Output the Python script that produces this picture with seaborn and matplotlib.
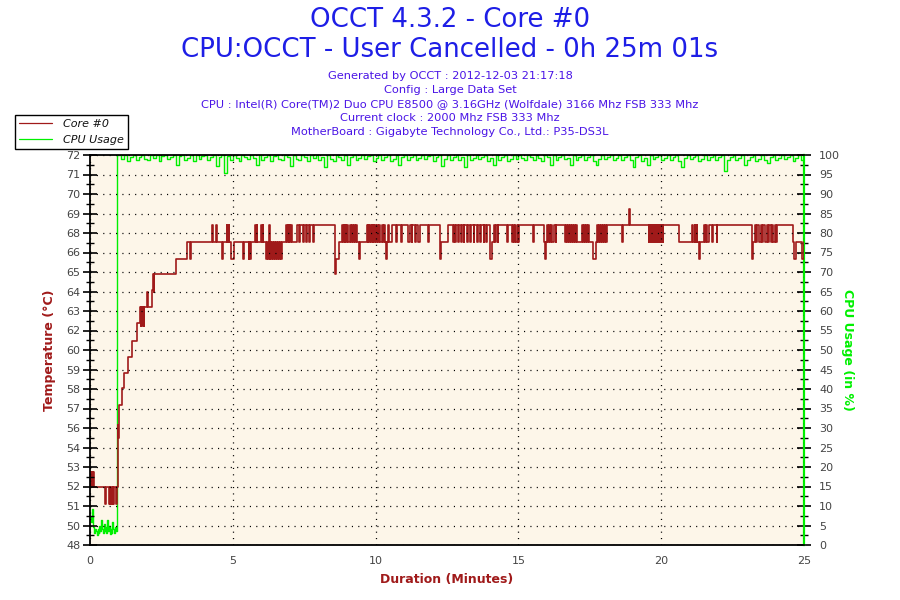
import matplotlib
matplotlib.use("Agg")
import matplotlib.pyplot as plt
from matplotlib.ticker import MultipleLocator, FixedLocator, FixedFormatter
import numpy as np
import pandas as pd
import seaborn as sns

sns.set_style("white")
plt.rcParams['font.family'] = ['DejaVu Sans']

# ---------------- data ----------------
title_lines = ["OCCT 4.3.2 - Core #0", "CPU:OCCT - User Cancelled - 0h 25m 01s"]
info_lines = [
    "Generated by OCCT : 2012-12-03 21:17:18",
    "Config : Large Data Set",
    "CPU : Intel(R) Core(TM)2 Duo CPU E8500 @ 3.16GHz (Wolfdale) 3166 Mhz FSB 333 Mhz",
    "Current clock : 2000 Mhz FSB 333 Mhz",
    "MotherBoard : Gigabyte Technology Co., Ltd.: P35-DS3L",
]
series_names = ["Core #0", "CPU Usage"]

temp_axis_min, temp_axis_max = 48, 72
temp_tick_labels = ["48", "50", "51", "52", "53", "54", "56", "57", "58", "59", "60",
                    "62", "63", "64", "65", "66", "68", "69", "70", "71", "72"]
cpu_tick_labels = [str(v) for v in range(0, 101, 5)]
x_tick_labels = ["0", "5", "10", "15", "20", "25"]

# temperature levels seen on the plateau
B, H, L, LL, TOP = 66.65, 67.7, 65.6, 64.7, 68.7

temp_rise_times = [0.00, 0.02, 0.04, 0.06, 0.08, 0.10, 0.12, 0.14, 0.52, 0.56, 0.66, 0.69,
                   0.71, 0.74, 0.76, 0.79, 0.81, 0.84, 0.90, 0.93, 0.97, 0.98, 0.99, 1.00,
                   1.03, 1.11, 1.19, 1.34, 1.48, 1.66, 1.75, 1.78, 1.80, 1.83, 1.85, 1.88,
                   1.90, 2.01, 2.03, 2.16, 2.22, 2.24, 2.25, 2.27, 3.01, 3.38, 3.39]
temp_rise_values = [52.5, 51.55, 52.5, 51.55, 52.5, 51.55, 52.5, 51.55, 50.5, 51.55, 50.5, 51.55,
                    50.5, 51.55, 50.5, 51.55, 50.5, 51.55, 50.5, 51.55, 54.6, 55.4, 54.6, 55.4,
                    56.6, 57.66, 58.6, 59.6, 60.57, 61.64, 62.63, 61.5, 62.63, 61.5, 62.63, 61.5,
                    62.63, 63.6, 62.63, 63.7, 64.66, 63.6, 64.66, 64.66, 65.6, 66.65, 65.6]

temp_plateau_times = [
    3.41, 3.51, 3.53, 4.26, 4.30, 4.40, 4.44, 4.635, 4.67, 4.79, 4.81, 4.86, 4.88, 4.94, 5.03,
    5.37, 5.39, 5.55, 5.57, 5.60, 5.64, 5.78, 5.80, 5.84, 5.86, 5.99, 6.01, 6.04, 6.06,
    6.15, 6.19, 6.22, 6.26, 6.28, 6.30, 6.32, 6.34, 6.38, 6.40, 6.43, 6.48, 6.52, 6.56, 6.60,
    6.63, 6.67, 6.70, 6.74,
    6.865, 6.90, 6.92, 6.96, 6.98, 7.02, 7.04, 7.08,
    7.26, 7.32, 7.36, 7.47, 7.51, 7.57, 7.59, 7.68, 7.71, 7.82, 7.85,
    8.58, 8.63, 8.73,
    8.815, 8.85, 8.885, 8.92, 8.94, 8.98, 9.01, 9.04, 9.095, 9.13, 9.17, 9.20, 9.25, 9.28, 9.32, 9.34,
    9.43, 9.46,
    9.69, 9.73, 9.75, 9.785, 9.81, 9.84, 9.87, 9.90, 9.925, 9.96, 9.98, 10.02, 10.04, 10.08, 10.11, 10.16,
    10.22, 10.25, 10.31, 10.345, 10.37, 10.415, 10.45, 10.485,
    10.57, 10.72, 10.74, 10.905, 10.93, 11.15, 11.19, 11.27, 11.29, 11.38, 11.42, 11.50, 11.54, 11.83, 11.86,
    12.24, 12.26, 12.28,
    12.55, 12.70, 12.73, 12.785, 12.81, 12.90, 12.925, 12.995, 13.02, 13.08, 13.10, 13.19, 13.23, 13.31,
    13.33, 13.43, 13.45, 13.54, 13.58, 13.66, 13.68, 13.78, 13.80, 13.87, 13.89,
    13.99, 14.01, 14.09, 14.15, 14.19, 14.22, 14.27, 14.30,
    14.59, 14.62, 14.77, 14.80, 14.85, 14.885, 14.92, 14.97, 15.00, 15.03,
    15.50, 15.53,
    15.90, 15.925, 15.96, 16.00, 16.03, 16.08, 16.11, 16.15, 16.18, 16.23, 16.30, 16.32,
    16.64, 16.66, 16.695, 16.73, 16.765, 16.79, 16.835, 16.87, 16.905, 16.95, 16.99, 17.02, 17.06,
    17.22, 17.26, 17.30, 17.34, 17.37, 17.41, 17.44, 17.48,
    17.62, 17.71,
    17.75, 17.78, 17.82, 17.85, 17.89, 17.92, 17.96, 17.99, 18.03, 18.06, 18.10,
    18.62, 18.66, 18.89, 18.925,
    19.56, 19.59, 19.63, 19.66, 19.70, 19.73, 19.77, 19.80, 19.84, 19.87, 19.91, 19.94, 19.98, 20.01,
    20.05, 20.08,
    20.64, 21.07, 21.10, 21.17, 21.19, 21.24, 21.26, 21.31, 21.37,
    21.51, 21.53, 21.58, 21.60, 21.66, 21.77, 21.80, 21.95, 21.97,
    23.175, 23.23, 23.29, 23.33, 23.37, 23.44, 23.49, 23.54, 23.58, 23.64, 23.70, 23.74, 23.79, 23.84,
    23.89, 23.93, 23.99, 24.03, 24.07,
    24.61, 24.66, 24.72, 24.93, 24.99, 25.00]
temp_plateau_values = [
    B, L, B, H, B, H, B, L, B, H, B, H, B, L, B,
    L, B, L, B, L, B, H, B, H, B, H, B, H, B,
    L, B, L, B, H, L, B, L, B, L, B, L, B, L, B,
    L, B, L, B,
    H, B, H, B, H, B, H, B,
    H, B, H, B, H, B, H, B, H, B, H,
    LL, L, B,
    H, B, H, B, H, B, H, B, H, B, H, B, H, B, H, B,
    L, B,
    H, B, H, B, H, B, H, B, H, B, H, B, H, B, H, B,
    H, B, H, B, L, B, H, B,
    H, B, H, B, H, B, H, B, H, B, H, B, H, B, H,
    B, L, B,
    H, B, H, B, H, B, H, B, H, B, H, B, H, B,
    H, B, H, B, H, B, H, B, H, B, H,
    B, L, B, H, B, H, B, H,
    B, H, B, H, B, H, B, H, B, H,
    B, H,
    B, L, B, H, B, H, B, H, B, H, B, H,
    B, H, B, H, B, H, B, H, B, H, B, H, B,
    H, B, H, B, H, B, H, B,
    L, B,
    H, B, H, B, H, B, H, B, H, B, H,
    B, H, TOP, H,
    B, H, B, H, B, H, B, H, B, H, B, H, B, H,
    B, H,
    B, H, B, H, B, H, B, L, B,
    H, B, H, B, H, B, H, B, H,
    L, B, H, B, H, B, H, B, H, B, H, B, H, B,
    H, B, H, B, H,
    B, L, B, L, B, B]

cpu_start_times = [0.00, 0.03, 0.06, 0.09, 0.12, 0.15, 0.18, 0.21, 0.24, 0.27, 0.30, 0.33,
                   0.36, 0.39, 0.42, 0.45, 0.48, 0.51, 0.54, 0.57, 0.60, 0.63, 0.66, 0.69,
                   0.72, 0.75, 0.78, 0.81, 0.84, 0.87, 0.90, 0.93, 0.955, 0.958]
cpu_start_values = [7.3, 6.0, 9.2, 5.0, 4.5, 3.0, 4.0, 3.5, 2.5, 4.0, 3.0, 5.0,
                    3.5, 6.5, 4.0, 3.0, 5.5, 3.5, 4.5, 3.0, 6.5, 3.5, 5.0, 2.8,
                    4.0, 3.2, 6.0, 4.0, 3.0, 4.5, 3.5, 3.5, 7.0, 100.0]
cpu_load_first_minute = 1.0
cpu_load_sample_step = 0.1
cpu_load_values = [
    100, 99, 100, 98.5, 99.5, 100, 98.8, 99.6, 100, 99,
    98.6, 100, 99.2, 100, 98.4, 99.7, 100, 98.9, 99.5, 100,
    97.5, 99.8, 100, 98.7, 99.3, 100, 98.5, 100, 99.1, 99.8,
    100, 98.6, 99.4, 100, 97.2, 99.5, 100, 95.4, 99.7, 98.8,
    100, 99.3, 98.5, 100, 99.6, 98.9, 100, 99.2, 97.5, 100,
    98.7, 99.5, 100, 98.4, 99.8, 100, 99, 98.6, 100, 99.4,
    97.2, 100, 99.1, 98.7, 100, 99.5, 98.4, 100, 99.2, 100,
    98.8, 99.6, 96.9, 100, 99, 98.5, 100, 99.4, 98.7, 100,
    97.5, 99.5, 100, 98.6, 99.2, 100, 98.9, 99.7, 100, 98.5,
    99.3, 100, 98.7, 99.6, 100, 98.4, 99.1, 100, 97.5, 99.4,
    100, 98.8, 99.5, 100, 98.6, 99.2, 100, 98.9, 99.7, 100,
    98.5, 99.4, 100, 97.2, 99, 100, 98.7, 99.6, 100, 98.8,
    99.5, 96.9, 100, 98.6, 99.3, 100, 98.9, 99.6, 100, 98.5,
    99.2, 97.5, 100, 98.8, 99.6, 100, 98.4, 99.1, 100, 98.9,
    100, 99.3, 98.6, 100, 99.5, 98.8, 100, 99.2, 98.5, 100,
    99.4, 97.4, 100, 98.7, 99.5, 100, 98.9, 99.2, 97.5, 100,
    98.6, 99.4, 100, 98.8, 99.6, 100, 98.5, 97.4, 99.1, 100,
    98.9, 99.5, 100, 98.6, 99.3, 100, 98.8, 99.6, 100, 98.7,
    96.9, 99.4, 100, 98.5, 99.2, 97.5, 100, 98.9, 99.6, 100,
    98.6, 99.3, 100, 98.8, 99.5, 100, 98.4, 96.9, 99.2, 100,
    98.9, 99.6, 100, 98.5, 99.1, 100, 98.7, 99.4, 100, 98.6,
    99.5, 100, 96.0, 98.8, 99.4, 100, 98.6, 99.2, 100, 97.5,
    98.7, 99.5, 100, 98.4, 99.1, 100, 98.8, 97.9, 99.6, 100,
    98.6, 99.3, 100, 98.9, 99.5, 100, 98.5, 99.2, 100, 98.7,
    96.0]

# ---------------- build tables ----------------
temp_df = pd.DataFrame({"minutes": temp_rise_times + temp_plateau_times,
                        "temp": temp_rise_values + temp_plateau_values})
cpu_load_times = list(np.round(cpu_load_first_minute
                               + cpu_load_sample_step * np.arange(len(cpu_load_values)), 3))
cpu_df = pd.DataFrame({"minutes": cpu_start_times + cpu_load_times,
                       "cpu": cpu_start_values + cpu_load_values})

# ---------------- styling ----------------
RED = "#A01A1A"
GREEN = "#00F000"
BLUE = "#1E1EE6"
SUB = "#4A14E6"
CREAM = "#FDF6E9"
TICKC = "#444444"

fig = plt.figure(figsize=(9, 6), dpi=100)
fig.patch.set_facecolor("white")
ax = fig.add_axes([90 / 900, 55 / 600, 714 / 900, 390 / 600])
ax2 = ax.twinx()

ax2.patch.set_visible(True)
ax2.patch.set_facecolor(CREAM)
ax.set_zorder(ax2.get_zorder() + 1)
ax.patch.set_visible(False)

sns.lineplot(data=cpu_df, x="minutes", y="cpu", ax=ax2, color=GREEN, linewidth=1.0,
             estimator=None, sort=False, drawstyle="steps-post", legend=False)
sns.lineplot(data=temp_df, x="minutes", y="temp", ax=ax, color=RED, linewidth=1.2,
             estimator=None, sort=False, drawstyle="steps-post", legend=False)

ax.set_xlim(0, 25)
ax.set_ylim(temp_axis_min, temp_axis_max)
ax2.set_ylim(0, 100)

temp_step = (temp_axis_max - temp_axis_min) / (len(temp_tick_labels) - 1)
temp_ticks = [temp_axis_min + i * temp_step for i in range(len(temp_tick_labels))]
ax.yaxis.set_major_locator(FixedLocator(temp_ticks))
ax.yaxis.set_major_formatter(FixedFormatter(temp_tick_labels))
ax.yaxis.set_minor_locator(FixedLocator([t + temp_step / 2 for t in temp_ticks[:-1]]))

ax.set_xticks([0, 5, 10, 15, 20, 25])
ax.set_xticklabels(x_tick_labels)
ax.xaxis.set_minor_locator(MultipleLocator(1))

ax2.yaxis.set_major_locator(FixedLocator(list(range(0, 101, 5))))
ax2.yaxis.set_major_formatter(FixedFormatter(cpu_tick_labels))
ax2.yaxis.set_minor_locator(MultipleLocator(2.5))

grid_style = dict(color="black", linestyle=(0, (0.9, 4.2)), linewidth=0.9)
ax.grid(True, axis="both", which="major", **grid_style)
ax.set_axisbelow(False)

for a in (ax, ax2):
    a.tick_params(which="major", direction="inout", length=10, width=1.2, color="black",
                  labelsize=8, labelcolor=TICKC)
    a.tick_params(which="minor", direction="inout", length=6, width=1.0, color="black")
ax.tick_params(axis="y", pad=2)
ax.tick_params(axis="x", pad=3)
ax2.tick_params(axis="y", pad=6)

for s in ("left", "bottom", "top"):
    ax.spines[s].set_color("black")
    ax.spines[s].set_linewidth(1.3)
ax.spines["right"].set_visible(False)
for s in ("left", "bottom", "top"):
    ax2.spines[s].set_visible(False)
ax2.spines["right"].set_color(GREEN)
ax2.spines["right"].set_linewidth(1.6)

ax.set_xlabel("Duration (Minutes)", color=RED, fontsize=9, fontweight="bold", labelpad=5)
ax.set_ylabel("Temperature (°C)", color=RED, fontsize=9, fontweight="bold", labelpad=7)
ax2.set_ylabel("CPU Usage (in %)", color=GREEN, fontsize=9, fontweight="bold",
               rotation=270, labelpad=10)

fig.text(0.5, 1 - 20 / 600, title_lines[0], ha="center", va="center", fontsize=18.7, color=BLUE)
fig.text(0.5, 1 - 50 / 600, title_lines[1], ha="center", va="center", fontsize=18.7, color=BLUE)
for i, line in enumerate(info_lines):
    fig.text(0.5, 1 - (76 + 14 * i) / 600, line, ha="center", va="center", fontsize=8.2, color=SUB)

handles = [ax.get_lines()[0], ax2.get_lines()[0]]
leg = fig.legend(handles, series_names, loc="upper left",
                 bbox_to_anchor=(15 / 900, 1 - 115 / 600), bbox_transform=fig.transFigure,
                 frameon=True, fancybox=False, framealpha=1, edgecolor="black",
                 prop={"style": "italic", "size": 8}, handlelength=3.0,
                 borderpad=0.35, labelspacing=0.55, handletextpad=1.0, borderaxespad=0)
leg.get_frame().set_linewidth(1.0)
for t in leg.get_texts():
    t.set_color("#111111")
for lh in leg.get_lines():
    lh.set_linewidth(0.9)

fig.savefig("out.png", dpi=100)
